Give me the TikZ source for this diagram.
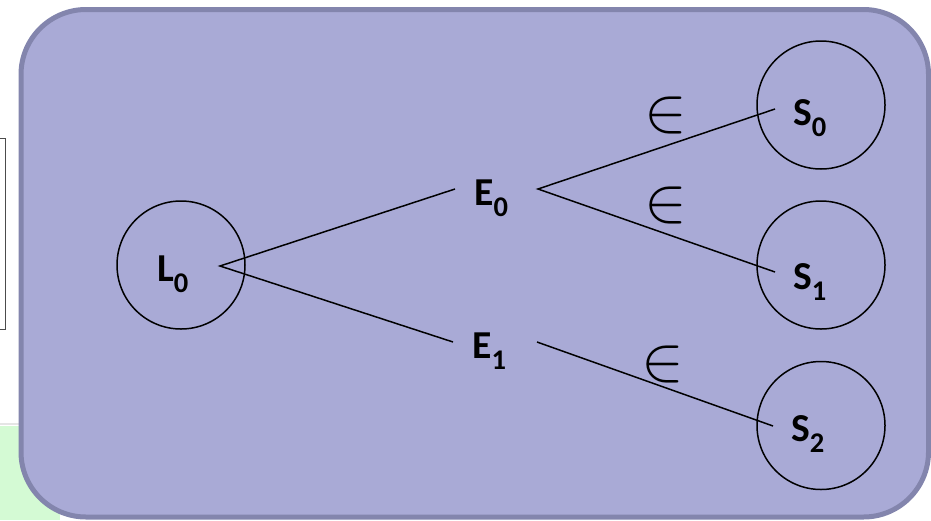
\documentclass[tikz,border=0pt]{standalone}
\usepackage{fontspec}
\setmainfont{Carlito}
\definecolor{boxfill}{HTML}{A9AAD6}
\definecolor{boxedge}{HTML}{8385AD}
\definecolor{greenbg}{HTML}{D4FAD4}
\newcommand{\subsc}[1]{\raisebox{-11pt}{\fontsize{28.5}{28.5}\selectfont #1}}
\tikzset{
  circ/.style={draw=black, line width=1.5pt, circle, minimum size=128pt, inner sep=0pt},
  lbl/.style={font=\fontsize{39.6}{40}\selectfont\bfseries, inner sep=0pt, anchor=base west},
  elem/.style={inner sep=0pt, scale=6.4},
  conn/.style={draw=black, line width=1.5pt}
}
\begin{document}
\begin{tikzpicture}[x=1pt,y=-1pt]
\useasboundingbox (0,0) rectangle (931,520);
% background pieces to the left
\fill[greenbg] (0,426) rectangle (60,520);
\draw[gray!20, line width=2pt] (0,424) -- (60,424);
\draw[black!70, line width=0.8pt] (0,138) -- (5,138) -- (5,329) -- (0,329);
% main rounded box
\draw[boxedge, fill=boxfill, line width=5pt, rounded corners=65pt] (21,9.5) rectangle (928.5,517);
% circles
\node[circ] (L0c) at (181,265) {};
\node[circ] (S0c) at (821,105) {};
\node[circ] (S1c) at (821,265) {};
\node[circ] (S2c) at (821,425.5) {};
% labels
\node[lbl] (L0) at (157,281.7) {L\subsc{0}};
\node[lbl] (E0) at (474,205.7) {E\subsc{0}};
\node[lbl] (E1) at (472,358) {E\subsc{1}};
\node[lbl] (S0) at (793,125.7) {S\subsc{0}};
\node[lbl] (S1) at (793,289) {S\subsc{1}};
\node[lbl] (S2) at (791,441.7) {S\subsc{2}};
% element-of labels
\node[elem] (in0) at (666,115.5) {$\in$};
\node[elem] (in1) at (666,205.5) {$\in$};
\node[elem] (in2) at (663,364.5) {$\in$};
% connector ends
\coordinate (L0o) at (220,266);
\coordinate (E0i) at (455,189);
\coordinate (E0o) at (538,189);
\coordinate (E1i) at (453,342);
\coordinate (E1o) at (537,342);
\coordinate (S0i) at (775,109);
\coordinate (S1i) at (775,272);
\coordinate (S2i) at (773,426);
% connectors
\draw[conn] (E0i) -- (L0o) -- (E1i);
\draw[conn] (S0i) -- (E0o) -- (S1i);
\draw[conn] (E1o) -- (S2i);
\end{tikzpicture}
\end{document}
